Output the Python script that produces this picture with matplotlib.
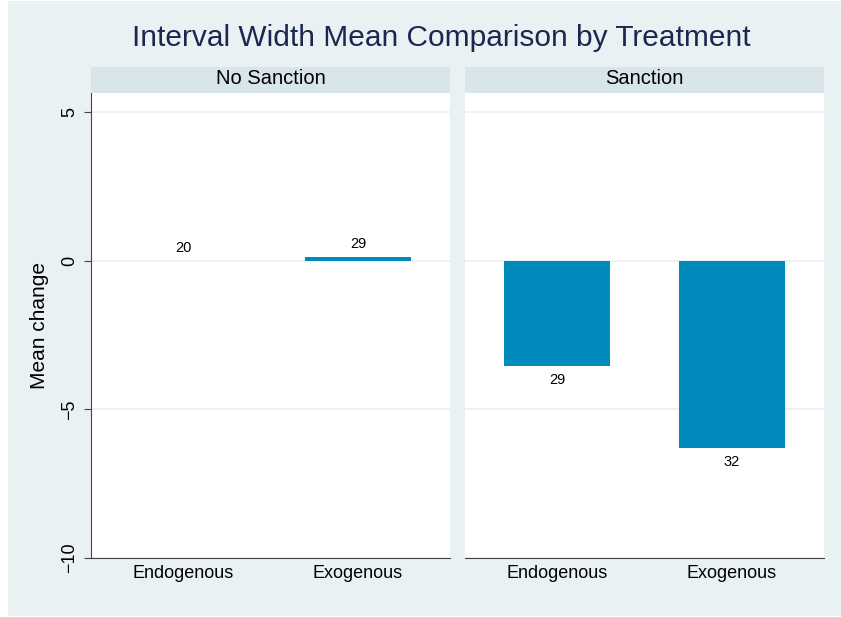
import numpy as np
import matplotlib.pyplot as plt
from matplotlib.patches import Rectangle

# data
panels = ["No Sanction", "Sanction"]
categories = ["Endogenous", "Exogenous"]
mean_change = {
    "No Sanction": [0.0, 0.13],
    "Sanction": [-3.53, -6.29],
}
counts = {
    "No Sanction": ["20", "29"],
    "Sanction": ["29", "32"],
}
yticks = [-10, -5, 0, 5]
ytick_labels = ["\u221210", "\u22125", "0", "5"]

plt.rcParams["font.family"] = ["Liberation Sans", "DejaVu Sans"]

W, H = 841, 617
fig = plt.figure(figsize=(W / 100, H / 100), dpi=100, facecolor="white")

bg = "#EAF1F3"
strip_col = "#D8E5EB"
bar_col = "#008BBC"
grid_col = "#EAF1F3"

# outer background panel
fig.patches.append(Rectangle((8 / W, 1 - 616 / H), (W - 8) / W, 615 / H,
                             transform=fig.transFigure, facecolor=bg,
                             edgecolor="none", zorder=-10))

fig.text(441 / W, 1 - 38 / H, "Interval Width Mean Comparison by Treatment",
         ha="center", va="center", fontsize=21.5, color="#1A2850")

x = np.arange(len(categories))
top, bottom = 93, 558
left_x = [91, 465]
pw = 359

for i, name in enumerate(panels):
    ax = fig.add_axes([left_x[i] / W, 1 - bottom / H, pw / W, (bottom - top) / H])
    ax.set_facecolor("white")
    vals = mean_change[name]
    ax.bar(x, vals, width=0.606, color=bar_col, zorder=3)
    for xi, v, c in zip(x, vals, counts[name]):
        if v >= 0:
            ax.annotate(c, (xi, v), xytext=(0, 4), textcoords="offset points",
                        ha="center", va="bottom", fontsize=10.5)
        else:
            ax.annotate(c, (xi, v), xytext=(0, -5), textcoords="offset points",
                        ha="center", va="top", fontsize=10.5)
    ax.set_xlim(-0.526, 1.526)
    ax.set_ylim(-10, 5.64)
    ax.set_yticks(yticks)
    ax.yaxis.grid(True, color=grid_col, lw=1.2, zorder=0)
    ax.set_xticks(x)
    ax.set_xticklabels(categories, fontsize=13)
    ax.tick_params(axis="x", length=0, pad=5)
    for s in ["top", "right"]:
        ax.spines[s].set_visible(False)
    ax.spines["bottom"].set_color("#444444")
    if i == 0:
        ax.set_yticklabels(ytick_labels, rotation=90, va="center", fontsize=13)
        ax.tick_params(axis="y", length=5, color="#444444", pad=4)
        ax.spines["left"].set_color("#444444")
        ax.set_ylabel("Mean change", fontsize=15, labelpad=9)
    else:
        ax.spines["left"].set_visible(False)
        ax.tick_params(axis="y", left=False, labelleft=False)
    # strip
    fig.patches.append(Rectangle((left_x[i] / W, 1 - top / H), pw / W, 26 / H,
                                 transform=fig.transFigure, facecolor=strip_col,
                                 edgecolor="none"))
    fig.text((left_x[i] + pw / 2) / W, 1 - 79 / H, name, ha="center",
             va="center", fontsize=14.5)

fig.savefig("out.png", dpi=100, facecolor="white")
